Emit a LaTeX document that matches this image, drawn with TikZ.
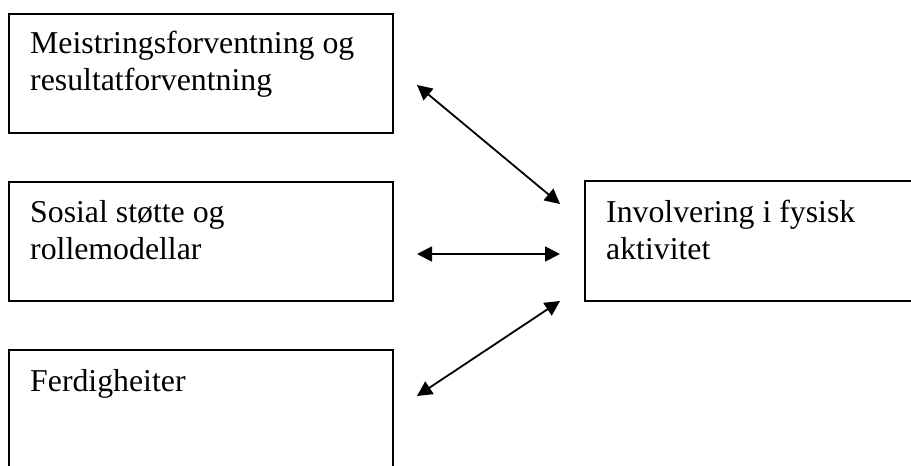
\documentclass[tikz,border=0pt]{standalone}
\usepackage{fontspec}
\setmainfont{Liberation Serif}
\usetikzlibrary{arrows.meta}
\begin{document}
\begin{tikzpicture}[x=1pt,y=-1pt,
  box/.style={draw=black,line width=1.6pt,rectangle},
  label/.style={anchor=base west,inner sep=0pt,align=left,
    font=\fontsize{31.8}{37}\selectfont},
  link/.style={line width=1.8pt,{Triangle[length=15pt,width=15pt]}-{Triangle[length=15pt,width=15pt]}}]
\useasboundingbox (0,0) rectangle (911,466);
\clip (0,0) rectangle (911,466);
% boxes
\draw[box] (9,14) rectangle (393,133);
\draw[box] (9,182) rectangle (393,301);
\draw[box] (9,350) rectangle (393,490);
\draw[box] (585,181) rectangle (930,301);
% texts (base anchor sits on the last line's baseline)
\node[label] (mestring) at (30,90) {Meistringsforventning og\\resultatforventning};
\node[label] (sosial) at (30,259) {Sosial støtte og\\rollemodellar};
\node[label] (ferdig) at (30,391) {Ferdigheiter};
\node[label] (involv) at (606,259) {Involvering i fysisk\\aktivitet};
% arrow ends
\coordinate (a1) at (417,85);
\coordinate (b1) at (560,204);
\coordinate (a2) at (417,254);
\coordinate (b2) at (560,254);
\coordinate (a3) at (417,396);
\coordinate (b3) at (560,301);
\draw[link] (a1) -- (b1);
\draw[link] (a2) -- (b2);
\draw[link] (a3) -- (b3);
\end{tikzpicture}
\end{document}
